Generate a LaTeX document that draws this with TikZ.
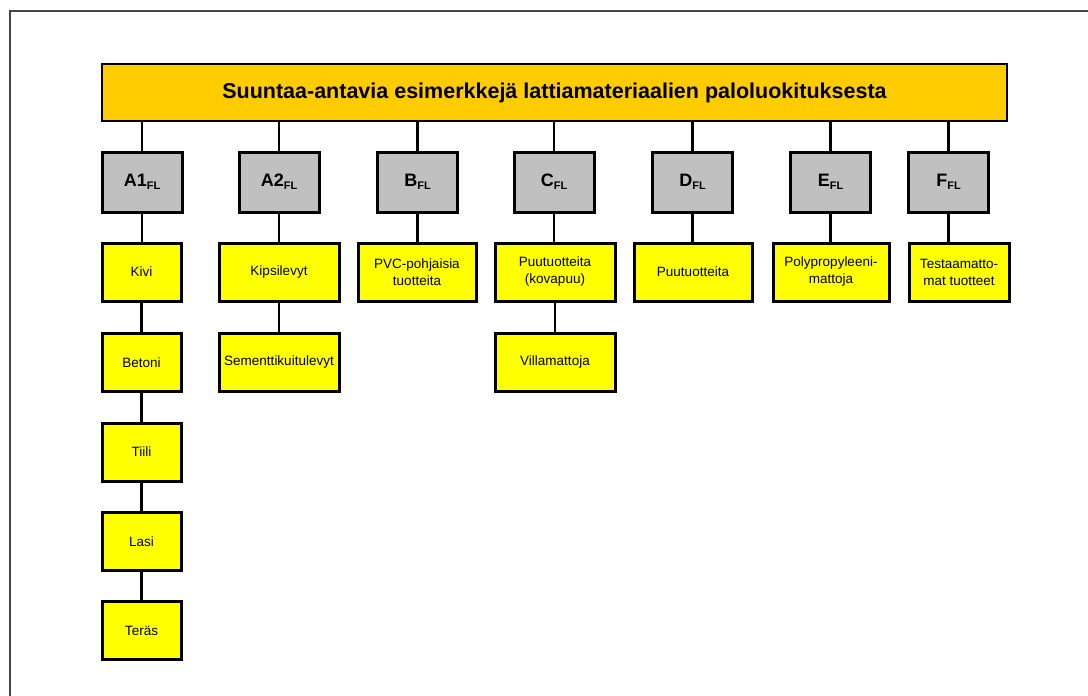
\documentclass[tikz,border=0pt]{standalone}
\usepackage{fontspec}
\setmainfont{Liberation Sans}
\definecolor{titlefill}{RGB}{255,204,0}
\definecolor{grayfill}{RGB}{192,192,192}
\definecolor{yelfill}{RGB}{255,255,0}
\definecolor{framecol}{RGB}{70,70,70}
\newcommand{\sub}[1]{\raisebox{-3pt}{\fontsize{11}{11}\selectfont\bfseries #1}}
\tikzset{
  titlebox/.style={draw=black, fill=titlefill, line width=2.5pt, inner sep=0pt,
    minimum width=905pt, minimum height=57pt, font=\fontsize{21.5}{24}\selectfont\bfseries},
  graybox/.style={draw=black, fill=grayfill, line width=3pt, inner sep=0pt,
    minimum width=80pt, minimum height=60pt, font=\fontsize{18}{20}\selectfont\bfseries},
  ybox/.style={draw=black, fill=yelfill, line width=3pt, inner sep=0pt,
    minimum height=58pt, align=center, font=\fontsize{13.5}{17}\selectfont},
  conn/.style={draw=black, line width=2.2pt}
}
\begin{document}
\begin{tikzpicture}[x=1pt,y=-1pt]
\useasboundingbox (0,0) rectangle (1088,696);
\fill[white] (0,0) rectangle (1088,696);
\draw[line width=1.5pt, framecol] (10,697) -- (10,11) -- (1089,11);

\node[titlebox] (title) at (554.5,92.5) {Suuntaa-antavia esimerkkejä lattiamateriaalien paloluokituksesta};

\node[graybox] (gA1) at (142,182) {A1\sub{FL}};
\node[graybox] (gA2) at (279,182) {A2\sub{FL}};
\node[graybox] (gB)  at (417.5,182) {B\sub{FL}};
\node[graybox] (gC)  at (554,182) {C\sub{FL}};
\node[graybox] (gD)  at (692.5,182) {D\sub{FL}};
\node[graybox] (gE)  at (830.5,182) {E\sub{FL}};
\node[graybox] (gF)  at (948.5,182) {F\sub{FL}};

\node[ybox, minimum width=79pt]  (kivi)   at (141.5,272) {Kivi};
\node[ybox, minimum width=79pt]  (betoni) at (141.5,362.5) {Betoni};
\node[ybox, minimum width=79pt]  (tiili)  at (141.5,452) {Tiili};
\node[ybox, minimum width=79pt]  (lasi)   at (141.5,541.5) {Lasi};
\node[ybox, minimum width=79pt]  (teras)  at (141.5,630.5) {Teräs};

\node[ybox, minimum width=120pt] (kipsi)  at (279,272) {Kipsilevyt};
\node[ybox, minimum width=120pt] (sement) at (279,362.5) {Sementtikuitulevyt};
\node[ybox, minimum width=118pt] (pvc)    at (417,272) {PVC-pohjaisia\\tuotteita};
\node[ybox, minimum width=120pt] (puuc)   at (555,272) {Puutuotteita\\(kovapuu)};
\node[ybox, minimum width=120pt] (villa)  at (555,362.5) {Villamattoja};
\node[ybox, minimum width=118pt] (puud)   at (693,272) {Puutuotteita};
\node[ybox, minimum width=116pt] (poly)   at (831,272) {Polypropyleeni-\\mattoja};
\node[ybox, minimum width=100pt] (testa)  at (959,272) {Testaamatto-\\mat tuotteet};

\foreach \g in {gA1,gA2,gB,gC,gD,gE,gF}{
  \draw[conn] (\g.north) -- (\g.north |- title.south);
}
\draw[conn] (gA1.south) -- (gA1.south |- kivi.north);
\draw[conn] (gA2.south) -- (gA2.south |- kipsi.north);
\draw[conn] (gB.south) -- (gB.south |- pvc.north);
\draw[conn] (gC.south) -- (gC.south |- puuc.north);
\draw[conn] (gD.south) -- (gD.south |- puud.north);
\draw[conn] (gE.south) -- (gE.south |- poly.north);
\draw[conn] (gF.south) -- (gF.south |- testa.north);

\draw[conn] (kivi.south) -- (betoni.north);
\draw[conn] (betoni.south) -- (tiili.north);
\draw[conn] (tiili.south) -- (lasi.north);
\draw[conn] (lasi.south) -- (teras.north);
\draw[conn] (kipsi.south) -- (sement.north);
\draw[conn] (puuc.south) -- (villa.north);
\end{tikzpicture}
\end{document}
